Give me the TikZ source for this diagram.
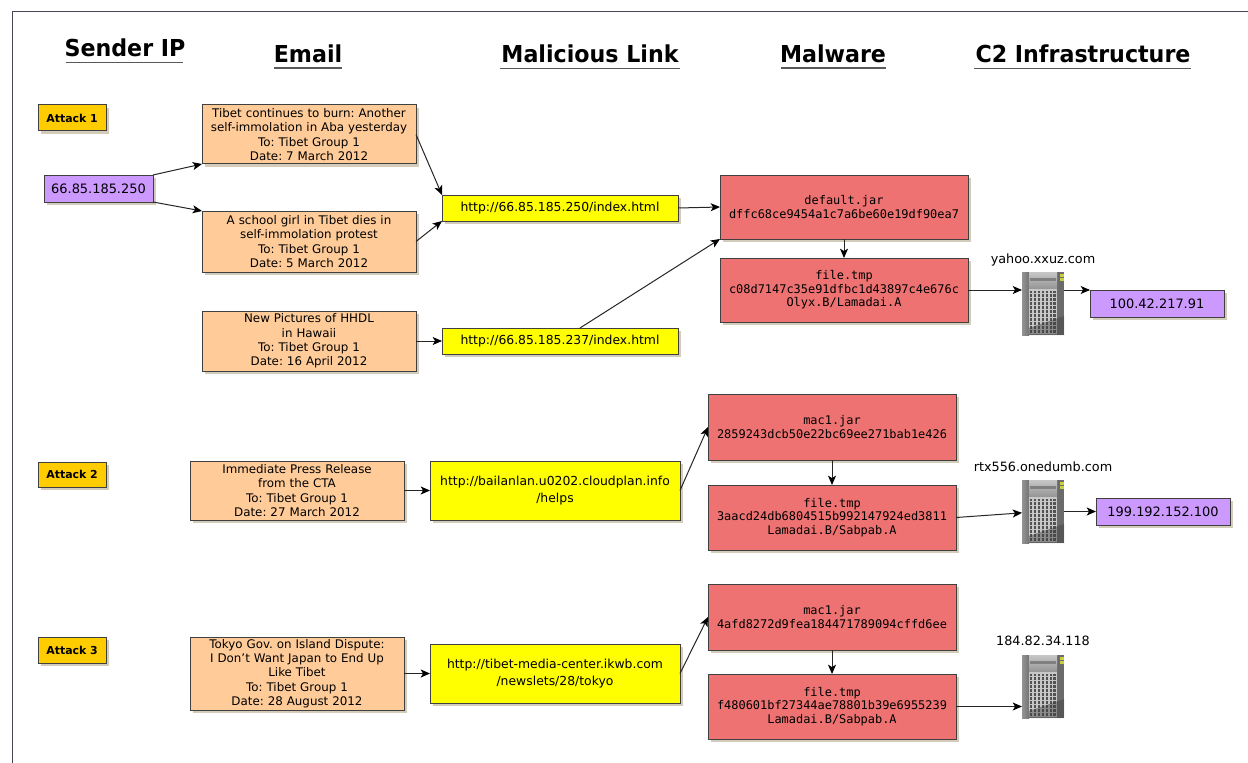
\documentclass[tikz,border=0pt]{standalone}
\usepackage{fontspec}
\setmainfont{DejaVu Sans}
\setmonofont{DejaVu Sans Mono}
\newfontfamily\headfont[FakeStretch=0.95]{DejaVu Sans}
\usetikzlibrary{shadows,arrows.meta,calc}
\definecolor{peach}{HTML}{FFCC99}
\definecolor{lilac}{HTML}{CC99FF}
\definecolor{malred}{HTML}{EE7272}
\definecolor{gold}{HTML}{FFCC00}
\definecolor{linky}{HTML}{FFFF00}
\definecolor{shad}{HTML}{D4CCBA}
\definecolor{edgec}{HTML}{404040}
\definecolor{frame}{HTML}{4E4458}
\definecolor{srvmark}{HTML}{C8D040}
\newcommand{\serverart}{%
  \begin{tikzpicture}[x=0.75pt,y=-0.75pt]
    \fill[black!50] (0,0) rectangle (42,63);
    \shade[left color=black!42,right color=black!55] (0,0) rectangle (7,63);
    \fill[black!58] (35,0) rectangle (42,63);
    \shade[top color=black!22,bottom color=black!42] (7,0) rectangle (35,17);
    \fill[black!50] (8,6) rectangle (34,9);
    \fill[black!22] (7,17) rectangle (35,62);
    \foreach \i in {0,...,6}{\foreach \j in {0,...,10}{
      \fill[black!68] (8+\i*3.9,18.5+\j*3.95) rectangle ++(2.4,2.5);}}
    \fill[black!75,opacity=.45] (7,56) -- (42,44) -- (42,63) -- (7,63) -- cycle;
    \fill[srvmark] (38,2) rectangle (42,4.5);
    \fill[srvmark] (38,6) rectangle (42,8.5);
  \end{tikzpicture}}
\tikzset{
  x=0.75pt,y=-0.75pt,
  box/.style={draw=edgec,line width=0.75pt,align=center,inner sep=0pt,outer sep=0pt,anchor=north west,
    drop shadow={shadow xshift=2pt,shadow yshift=-2pt,fill=shad,opacity=1},text=black},
  emailbox/.style={box,fill=peach,font=\frenchspacing\fontsize{8.9}{10.75}\selectfont},
  linkbox/.style={box,fill=linky,font=\fontsize{9.3}{12.6}\selectfont},
  malbox/.style={box,fill=malred,font=\ttfamily\fontsize{8.95}{10.1}\selectfont},
  ipbox/.style={box,fill=lilac,font=\fontsize{9.7}{12}\selectfont},
  attackbox/.style={box,fill=gold,font=\bfseries\fontsize{8.2}{10}\selectfont},
  head/.style={font=\headfont\bfseries\fontsize{17.5}{20}\selectfont,inner sep=0pt,text=black},
  headrule/.style={draw=black!65,line width=0.8pt},
  lab/.style={font=\fontsize{9.6}{11}\selectfont,text=black},
  conn/.style={draw=black!85,line width=0.75pt,-{Stealth[length=7pt,width=6pt,inset=1.8pt,color=black]}},
  server/.style={inner sep=0pt,outer sep=0pt,anchor=north west},
}
\newcommand{\bx}[7]{% style,name,l,t,r,b,text
  \node[#1,minimum width=(#5-#3)*0.75pt,minimum height=(#6-#4)*0.75pt,text width=(#5-#3)*0.75pt] (#2) at (#3,#4) {#7};}
\begin{document}
\begin{tikzpicture}
\useasboundingbox (0,0) rectangle (1248,763);
\fill[white] (0,0) rectangle (1248,763);
\draw[draw=frame,line width=0.7pt] (12,763) -- (12,11) -- (1248,11);
% headings
\node[head,anchor=base] (hs) at (125,57) {Sender IP};
\node[head,anchor=base] (he) at (308,62.5) {Email};
\node[head,anchor=base] (hl) at (590,63) {Malicious Link};
\node[head,anchor=base] (hm) at (833,62.5) {Malware};
\node[head,anchor=base] (hc) at (1083,62.5) {C2 Infrastructure};
\draw[headrule] (66,62.5) -- (183,62.5);
\draw[headrule] (274,68) -- (342,68);
\draw[headrule] (500,68.5) -- (680,68.5);
\draw[headrule] (781,68) -- (886,68);
\draw[headrule] (974,68.5) -- (1191,68.5);
% attack 1
\bx{attackbox}{a1}{38}{105}{106}{131}{Attack 1}
\bx{ipbox}{ip1}{44}{175}{153}{202}{66.85.185.250}
\bx{emailbox}{e1}{202}{105}{416}{164}{Tibet continues to burn: Another\\self-immolation in Aba yesterday\\To: Tibet Group 1\\Date: 7 March 2012}
\bx{emailbox}{e2}{202}{211}{416}{272}{A school girl in Tibet dies in\\self-immolation protest\\To: Tibet Group 1\\Date: 5 March 2012}
\bx{emailbox}{e3}{202}{311}{416}{371}{New Pictures of HHDL\\in Hawaii\\To: Tibet Group 1\\Date: 16 April 2012}
\bx{linkbox}{l1}{442}{195}{678}{221}{http://66.85.185.250/index.html}
\bx{linkbox}{l2}{442}{328}{678}{354}{http://66.85.185.237/index.html}
\bx{malbox}{m1}{720}{175}{968}{239}{default.jar\\dffc68ce9454a1c7a6be60e19df90ea7}
\bx{malbox}{m2}{720}{258}{968}{322}{file.tmp\\c08d7147c35e91dfbc1d43897c4e676c\\Olyx.B/Lamadai.A}
\node[server] (s1) at (1022,272) {\serverart};
\node[lab,anchor=base] (sl1) at (1043,263) {yahoo.xxuz.com};
\bx{ipbox}{ip2}{1090}{290}{1224}{317}{100.42.217.91}
% attack 2
\bx{attackbox}{a2}{38}{462}{106}{487}{Attack 2}
\bx{emailbox}{e4}{190}{461}{404}{520}{Immediate Press Release\\from the CTA\\To: Tibet Group 1\\Date: 27 March 2012}
\bx{linkbox}{l3}{430}{461}{680}{520}{http://bailanlan.u0202.cloudplan.info\\/helps}
\bx{malbox}{m3}{708}{394}{956}{460}{mac1.jar\\2859243dcb50e22bc69ee271bab1e426}
\bx{malbox}{m4}{708}{485}{956}{550}{file.tmp\\3aacd24db6804515b992147924ed3811\\Lamadai.B/Sabpab.A}
\node[server] (s2) at (1022,480) {\serverart};
\node[lab,anchor=base] (sl2) at (1043,471) {rtx556.onedumb.com};
\bx{ipbox}{ip3}{1096}{498}{1230}{525}{199.192.152.100}
% attack 3
\bx{attackbox}{a3}{38}{637}{106}{663}{Attack 3}
\bx{emailbox}{e5}{190}{637}{404}{710}{Tokyo Gov. on Island Dispute:\\I Don't Want Japan to End Up\\Like Tibet\\To: Tibet Group 1\\Date: 28 August 2012}
\bx{linkbox}{l4}{430}{644}{680}{703}{http://tibet-media-center.ikwb.com\\/newslets/28/tokyo}
\bx{malbox}{m5}{708}{584}{956}{650}{mac1.jar\\4afd8272d9fea184471789094cffd6ee}
\bx{malbox}{m6}{708}{674}{956}{739}{file.tmp\\f480601bf27344ae78801b39e6955239\\Lamadai.B/Sabpab.A}
\node[server] (s3) at (1022,655) {\serverart};
\node[lab,anchor=base] (sl3) at (1043,645) {184.82.34.118};
% connectors
\draw[conn] (ip1.north east) -- (e1.south west);
\draw[conn] (ip1.south east) -- (e2.north west);
\draw[conn] (e1.east) -- (l1.north west);
\draw[conn] (e2.east) -- (l1.south west);
\draw[conn] (e3.east) -- (l2.west);
\draw[conn] (l1.east) -- (m1.west);
\draw[conn] ([xshift=15pt]l2.north) -- (m1.south west);
\draw[conn] (m1.south) -- (m2.north);
\draw[conn] (m2.east) -- (m2.east -| s1.west);
\draw[conn] (s1.east |- ip2.north west) -- (ip2.north west);
\draw[conn] (e4.east) -- (l3.west);
\draw[conn] (l3.east) -- (m3.west);
\draw[conn] (m3.south) -- (m4.north);
\draw[conn] (m4.east) -- ([yshift=-1pt]s2.west);
\draw[conn] (s2.east |- ip3.west) -- (ip3.west);
\draw[conn] (e5.east) -- (e5.east -| l4.west);
\draw[conn] (l4.east) -- (m5.west);
\draw[conn] (m5.south) -- (m6.north);
\draw[conn] (m6.east) -- (m6.east -| s3.west);
\end{tikzpicture}
\end{document}
